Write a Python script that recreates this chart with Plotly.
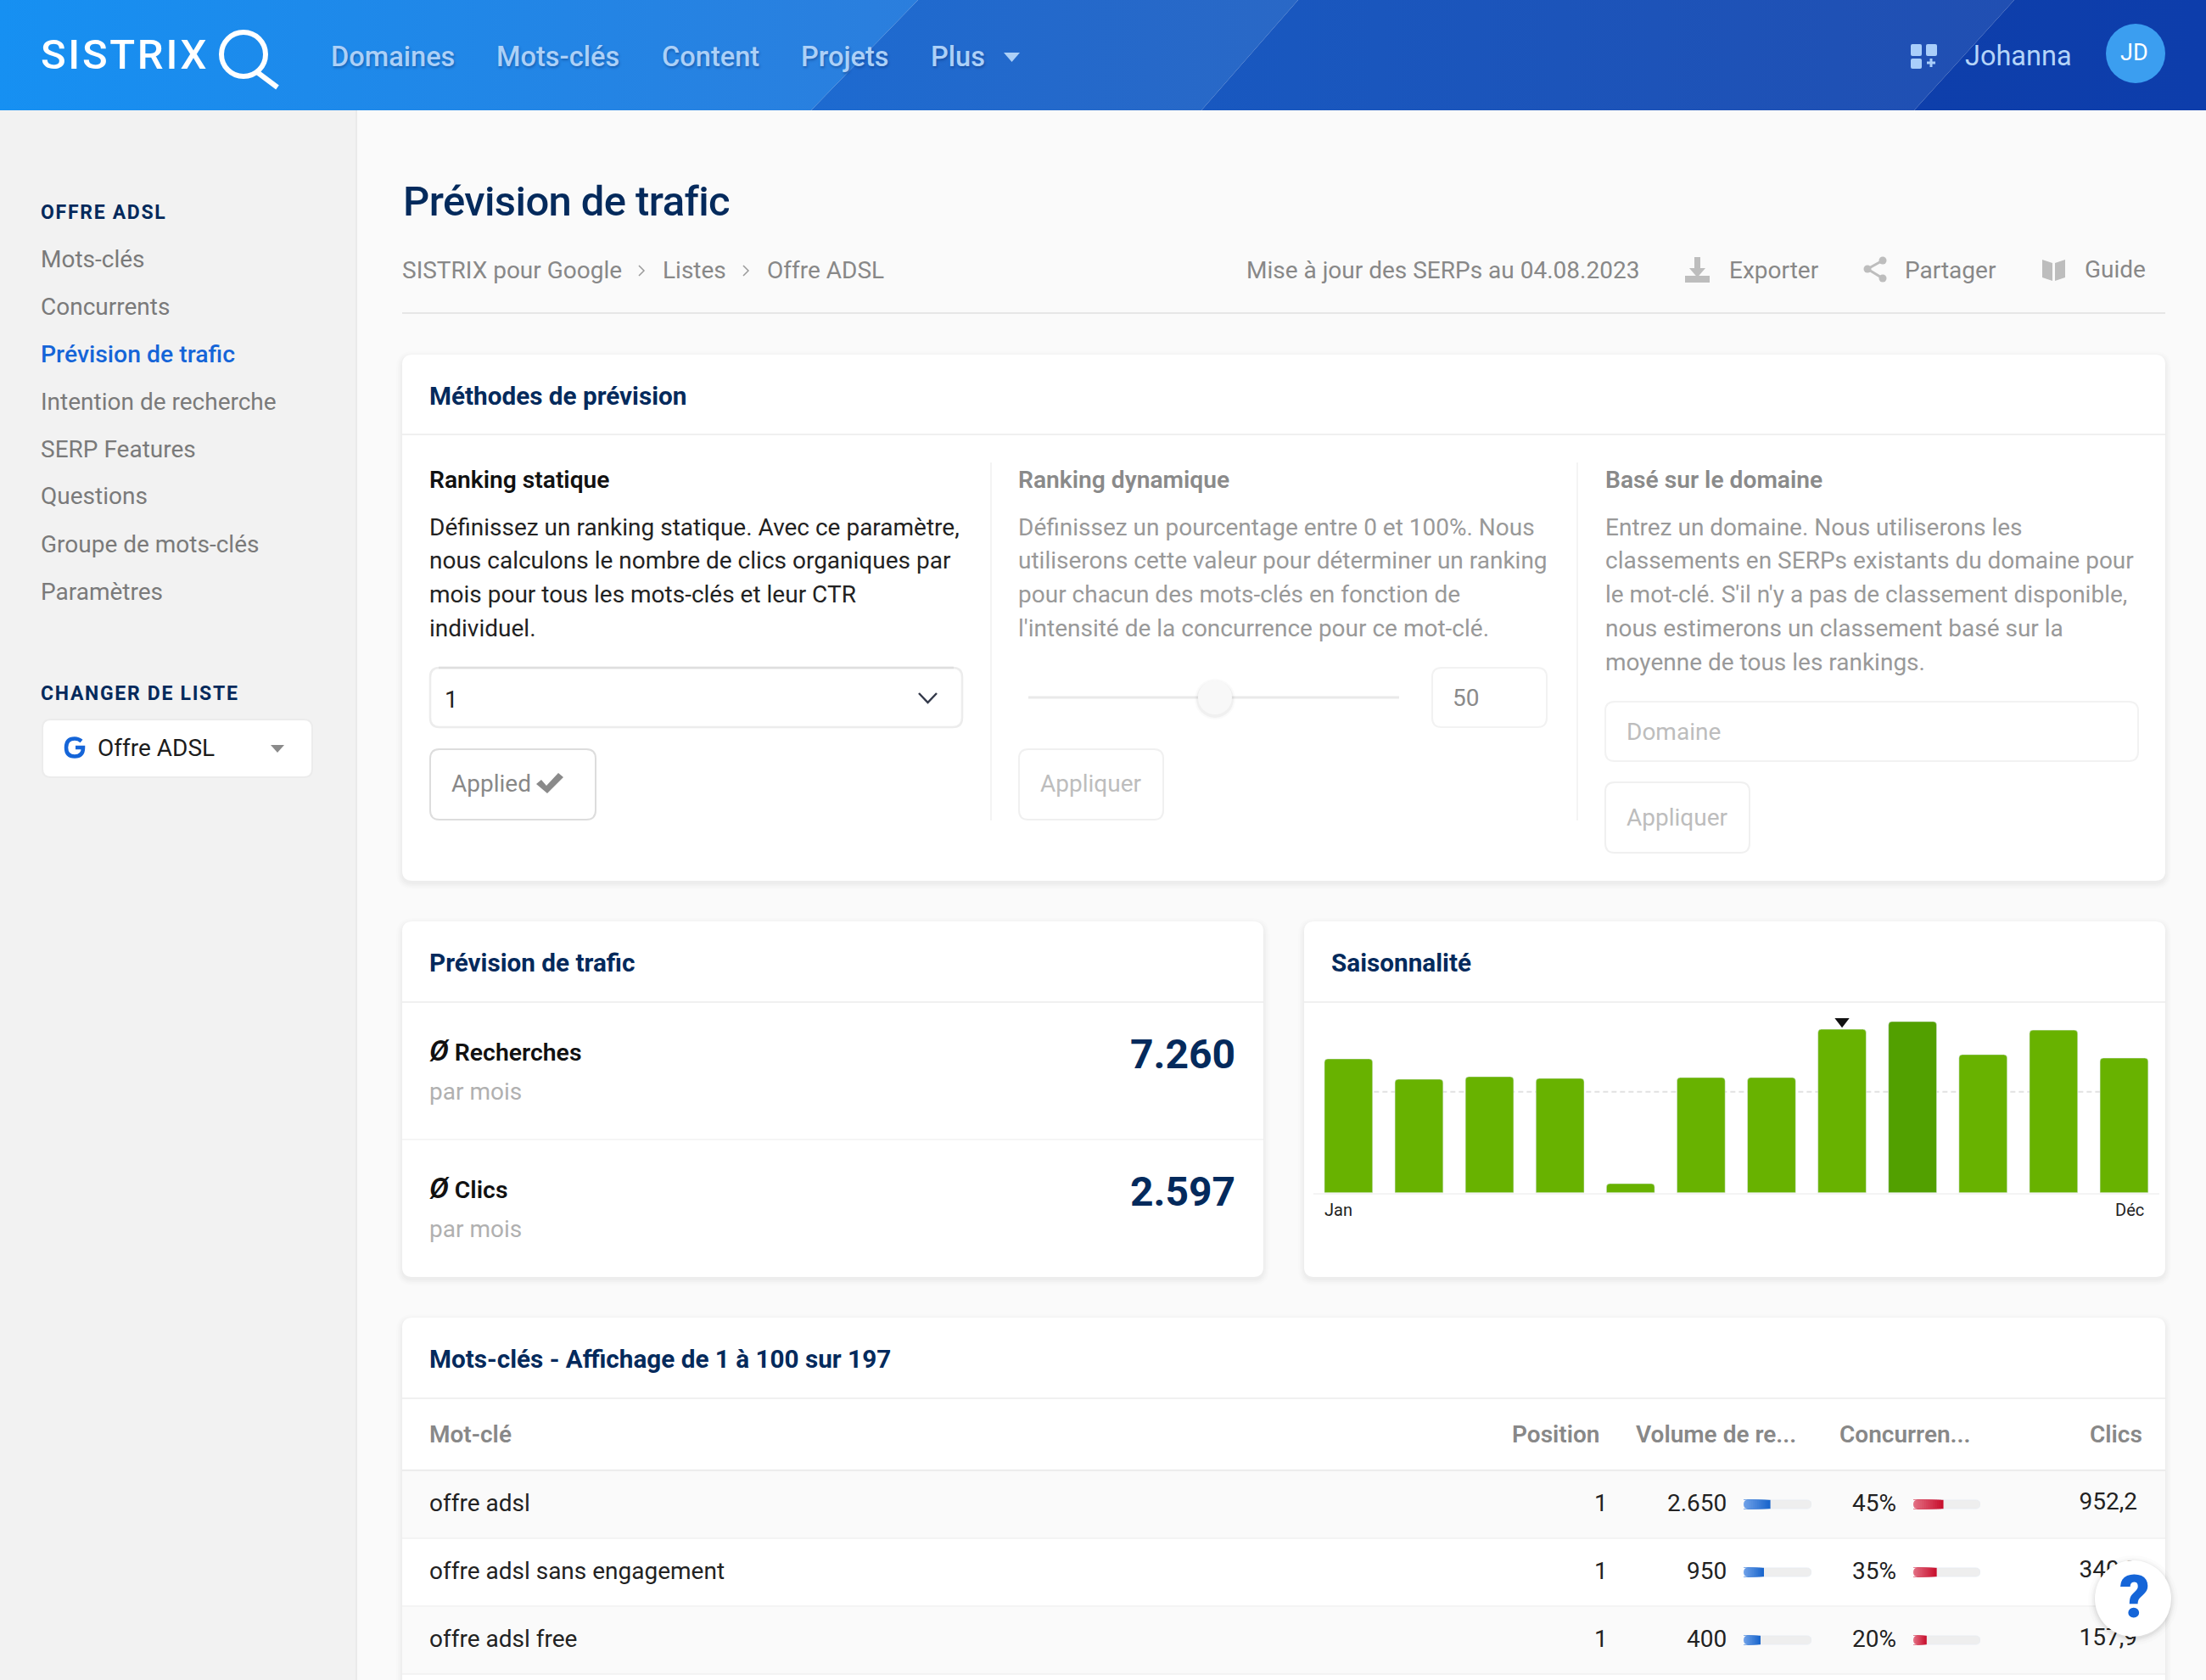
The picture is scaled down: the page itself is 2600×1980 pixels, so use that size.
import plotly.graph_objects as go

W = 2600
H = 1980

NAVY = '#042a5c'
FONT = 'Roboto'

# chart values
months = ['Jan', 'Fév', 'Mar', 'Avr', 'Mai', 'Juin', 'Juil', 'Août', 'Sep', 'Oct', 'Nov', 'Déc']
seasonality = [78.2, 66.3, 67.8, 66.8, 5.3, 67.3, 67.3, 95.5, 100, 80.7, 95.0, 78.7]
season_avg = 59
current_month = 'Août'
peak_month = 'Sep'

keywords = ['offre adsl', 'offre adsl sans engagement', 'offre adsl free']
positions = ['1', '1', '1']
volume_labels = ['2.650', '950', '400']
volume_bar = [39.5, 30, 25]
competition = [45, 35, 20]
clicks = ['952,2', '340,9', '157,9']

nav_items = ['Domaines', 'Mots-clés', 'Content', 'Projets', 'Plus']
side_items = ['Mots-clés', 'Concurrents', 'Prévision de trafic', 'Intention de recherche',
              'SERP Features', 'Questions', 'Groupe de mots-clés', 'Paramètres']
col1_lines = ['Définissez un ranking statique. Avec ce paramètre,',
              'nous calculons le nombre de clics organiques par',
              'mois pour tous les mots-clés et leur CTR',
              'individuel.']
col2_lines = ['Définissez un pourcentage entre 0 et 100%. Nous',
              'utiliserons cette valeur pour déterminer un ranking',
              'pour chacun des mots-clés en fonction de',
              "l'intensité de la concurrence pour ce mot-clé."]
col3_lines = ['Entrez un domaine. Nous utiliserons les',
              'classements en SERPs existants du domaine pour',
              "le mot-clé. S'il n'y a pas de classement disponible,",
              'nous estimerons un classement basé sur la',
              'moyenne de tous les rankings.']

shapes = []
notes = []


def text(x, y, s, size=28, color='#222222', weight=400, anchor='left', spacing=None, shadow=None):
    if spacing is not None:
        s = '<span style="letter-spacing:%spx">%s</span>' % (spacing, s)
    font = dict(family=FONT, size=size, color=color, weight=weight)
    if shadow:
        font['shadow'] = shadow
    notes.append(dict(x=x, y=y, xref='x', yref='y', text=s, showarrow=False, xanchor=anchor,
                      yanchor='middle', borderpad=0, borderwidth=0, font=font))


def rect(x0, y0, x1, y1, fill, layer='below'):
    shapes.append(dict(type='rect', xref='x', yref='y', x0=x0, y0=y0, x1=x1, y1=y1,
                       fillcolor=fill, line_width=0, layer=layer))


def rounded(x0, y0, x1, y1, r, fill='#ffffff', line=None, lw=2, layer='below'):
    p = ('M %s %s L %s %s Q %s %s %s %s L %s %s Q %s %s %s %s L %s %s Q %s %s %s %s L %s %s Q %s %s %s %s Z'
         % (x0 + r, y0, x1 - r, y0, x1, y0, x1, y0 + r, x1, y1 - r, x1, y1, x1 - r, y1,
            x0 + r, y1, x0, y1, x0, y1 - r, x0, y0 + r, x0, y0, x0 + r, y0))
    shapes.append(dict(type='path', xref='x', yref='y', path=p, fillcolor=fill, layer=layer,
                       line=dict(color=line or 'rgba(0,0,0,0)', width=lw if line else 0)))


def path(p, fill='rgba(0,0,0,0)', line=None, lw=0, layer='below'):
    shapes.append(dict(type='path', xref='x', yref='y', path=p, fillcolor=fill, layer=layer,
                       line=dict(color=line or 'rgba(0,0,0,0)', width=lw)))


def hline(x0, x1, y, color='#f0f0f0', lw=2):
    shapes.append(dict(type='line', xref='x', yref='y', x0=x0, x1=x1, y0=y, y1=y, layer='below',
                       line=dict(color=color, width=lw)))


def vline(x, y0, y1, color='#f0f0f0', lw=1.5):
    shapes.append(dict(type='line', xref='x', yref='y', x0=x, x1=x, y0=y0, y1=y1, layer='below',
                       line=dict(color=color, width=lw)))


def circle(cx, cy, r, fill, line=None, lw=0, layer='below'):
    shapes.append(dict(type='circle', xref='x', yref='y', x0=cx - r, x1=cx + r, y0=cy - r, y1=cy + r,
                       fillcolor=fill, layer=layer, line=dict(color=line or 'rgba(0,0,0,0)', width=lw)))


def card(x0, y0, x1, y1):
    # soft drop shadow, then the white panel
    for grow, alpha in [(7, 0.006), (5, 0.01), (3, 0.014), (1, 0.016)]:
        rounded(x0 - grow, y0 - grow + 3, x1 + grow, y1 + grow + 3, 12 + grow, 'rgba(0,0,0,%s)' % alpha)
    rounded(x0, y0, x1, y1, 12)


def ydomain(top, bottom):
    return [1 - bottom / H, 1 - top / H]


# page background and sidebar
rect(0, 130, 419, H, '#f2f2f2')
vline(420, 130, H, '#eaeaea', 2)
rect(421, 130, W, H, '#fafafa')

# header
text(48, 64, '<span style="letter-spacing:2.7px">SISTRIX</span>', 49, '#ffffff', 500)
circle(287, 64, 26, 'rgba(0,0,0,0)', '#ffffff', 6, layer='above')
path('M 303 85 L 327 103', line='#ffffff', lw=6, layer='above')

nav_x = [390, 585, 780, 944, 1097]
nav_shadow = '1px 2px 3px rgba(0,30,90,0.35)'
for x, s in zip(nav_x, nav_items):
    text(x, 66.5, s, 32.6, '#acd0f7', 500, shadow=nav_shadow)
path('M 1183 62 L 1202 62 L 1192.5 73 Z', '#acd0f7', layer='above')

rounded(2252, 52, 2265, 66, 2, '#a9cefa', layer='above')
rounded(2270, 52, 2283, 66, 2, '#a9cefa', layer='above')
rounded(2252, 69, 2265, 81, 2, '#a9cefa', layer='above')
path('M 2276 69 L 2276 79 M 2271 74 L 2281 74', line='#a9cefa', lw=3, layer='above')
text(2316, 65.5, 'Johanna', 32.5, '#b4d4f8')
circle(2517, 63, 35, '#3b9ef0', layer='above')
text(2515, 62, 'JD', 27, '#ffffff', anchor='center')

# sidebar
text(48, 250, 'OFFRE ADSL', 23, NAVY, 700, spacing=1.7)
side_y = [305, 361, 417.5, 473, 529, 584.5, 641, 697.5]
for y, s in zip(side_y, side_items):
    if s == 'Prévision de trafic':
        text(48, y, s, 28.4, '#1565d8', 500)
    else:
        text(48, y, s, 28, '#7a7a7a')
text(48, 817.5, 'CHANGER DE LISTE', 23, NAVY, 700, spacing=1.7)
rounded(50, 848, 368, 916, 10, '#ffffff', '#ececec', 2)
path('M 96 873.5 Q 92.5 870.5 88 870.5 Q 78 870.5 78 881 Q 78 891.5 88 891.5 Q 98 891.5 98 881 L 89 881',
     line='#1565d8', lw=4.5)
text(115, 881.5, 'Offre ADSL', 28, '#1c1c1c')
path('M 319 878 L 335 878 L 327 887 Z', '#8a8a8a')

# title row
text(475, 237, 'Prévision de trafic', 49, NAVY, 500, spacing=-0.6)
crumbs = [(474, 'SISTRIX pour Google'), (781, 'Listes'), (904, 'Offre ADSL')]
for x, s in crumbs:
    text(x, 318, s, 28, '#888888')
path('M 753 313 L 759 319 L 753 325', line='#9a9a9a', lw=1.5)
path('M 876 313 L 882 319 L 876 325', line='#9a9a9a', lw=1.5)
hline(474, 2552, 369, '#e6e6e6', 2)

text(1469, 318, 'Mise à jour des SERPs au 04.08.2023', 28, '#888888')
text(2038, 318, 'Exporter', 28, '#888888')
text(2245, 318, 'Partager', 28, '#888888')
text(2457, 317.5, 'Guide', 28, '#888888')
path('M 1997 303 L 2004 303 L 2004 316 L 2010 316 L 2000.5 327 L 1991 316 L 1997 316 Z', '#bdbdbd')
rect(1986, 325, 2015, 333, '#bdbdbd')
circle(2201, 317, 4.5, '#bdbdbd')
circle(2219, 307, 4.5, '#bdbdbd')
circle(2219, 328, 4.5, '#bdbdbd')
path('M 2201 317 L 2219 307 M 2201 317 L 2219 328', line='#bdbdbd', lw=3)
path('M 2407 306 L 2419 310 L 2419 331 L 2407 327 Z M 2434 306 L 2422 310 L 2422 331 L 2434 327 Z', '#bdbdbd')

# methods card
card(474, 418, 2552, 1038)
text(506, 466.5, 'Méthodes de prévision', 29.7, NAVY, 700)
hline(474, 2552, 512)
vline(1168, 545, 967)
vline(1859, 545, 967)

text_y = [621, 660.5, 700, 740, 780]
text(506, 565.5, 'Ranking statique', 28.2, '#111111', 600)
for y, s in zip(text_y, col1_lines):
    text(506, y, s)
text(1200, 565.5, 'Ranking dynamique', 28.2, '#8a8a8a', 600)
for y, s in zip(text_y, col2_lines):
    text(1200, y, s, color='#999999')
text(1892, 565.5, 'Basé sur le domaine', 28.2, '#8a8a8a', 600)
for y, s in zip(text_y, col3_lines):
    text(1892, y, s, color='#999999')

rounded(507, 787, 1134, 857, 11, '#ffffff', '#ececec', 2.5)
hline(517, 1124, 787, '#dedede', 2.5)
text(524, 824, '1')
path('M 1083 817 L 1093.5 828 L 1104 817', line='#33394a', lw=2.5)
rounded(507, 883, 702, 966, 11, '#ffffff', '#dddddd', 2)
text(532, 923.5, 'Applied', color='#888888')
path('M 632 924 L 638 919 L 644 926 L 658 911 L 664 916 L 645 935 Z', '#8a8a8a')

hline(1212, 1649, 822, '#e9e9e9', 3)
for grow, alpha in [(4, 0.02), (2, 0.04)]:
    circle(1432, 824, 20 + grow, 'rgba(0,0,0,%s)' % alpha)
circle(1432, 822, 20, '#f8f8f8')
rounded(1688, 787, 1823, 857, 11, '#ffffff', '#f2f2f2', 2)
text(1712, 822.5, '50', color='#8a8a8a')
rounded(1201, 883, 1371, 966, 11, '#ffffff', '#f0f0f0', 2)
text(1226, 923.5, 'Appliquer', color='#bdbdbd')

rounded(1892, 827, 2520, 897, 11, '#ffffff', '#f2f2f2', 2)
text(1917, 862.5, 'Domaine', color='#bdbdbd')
rounded(1892, 922, 2062, 1005, 11, '#ffffff', '#f0f0f0', 2)
text(1917, 963.5, 'Appliquer', color='#bdbdbd')

# forecast card
card(474, 1086, 1489, 1505)
text(506, 1134.5, 'Prévision de trafic', 29.7, NAVY, 700)
hline(474, 1489, 1181)
hline(474, 1489, 1343, '#f2f2f2', 1.5)
big_o = '<span style="font-size:34px"><i>Ø</i></span> '
text(506, 1237.5, big_o + 'Recherches', 28.4, '#111111', 600)
text(506, 1286.5, 'par mois', color='#b0b0b0')
text(1456, 1242, '7.260', 48, NAVY, 700, anchor='right')
text(506, 1399.5, big_o + 'Clics', 28.4, '#111111', 600)
text(506, 1448.5, 'par mois', color='#b0b0b0')
text(1456, 1404, '2.597', 48, NAVY, 700, anchor='right')

# seasonality card
card(1537, 1086, 2552, 1505)
text(1569, 1134.5, 'Saisonnalité', 29.7, NAVY, 700)
hline(1537, 2552, 1181)
text(1561, 1426, 'Jan', 20, '#222222')
text(2527, 1426, 'Déc', 20, '#222222', anchor='right')
shapes.append(dict(type='line', xref='x2', yref='y2', x0=months[0], x1=months[-1], y0=season_avg, y1=season_avg,
                   layer='below', line=dict(color='#e2e2e2', width=2, dash='6px,4px')))

# keywords card runs off the bottom of the page
card(474, 1553, 2552, H + 60)
text(506, 1601.5, 'Mots-clés - Affichage de 1 à 100 sur 197', 29.7, NAVY, 700)
hline(474, 2552, 1648)
text(506, 1690.5, 'Mot-clé', 28, '#888888', 600)
text(1885, 1690.5, 'Position', 28, '#888888', 600, anchor='right')
text(1928, 1690.5, 'Volume de re...', 28, '#888888', 600)
text(2168, 1690.5, 'Concurren...', 28, '#888888', 600)
text(2525, 1690.5, 'Clics', 28, '#888888', 600, anchor='right')
hline(474, 2552, 1733, '#ededed', 2.5)

row_top = [1734, 1814, 1894]
row_bg = ['#fafafa', '#ffffff', '#fafafa']
row_y = [1771.5, 1851.5, 1931.5]
for top, bg in zip(row_top, row_bg):
    rect(474, top, 2552, top + 79, bg)
    hline(474, 2552, top + 79, '#f0f0f0', 1.5)
for i, y in enumerate(row_y):
    text(506, y, keywords[i])
    text(1895, y, positions[i], anchor='right')
    text(2035, y, volume_labels[i], anchor='right')
    text(2235, y, '%d%%' % competition[i], anchor='right')

fig = go.Figure()

# header background, four diagonal bands
bands = [
    ([0, 1082, 956, 0], '#1690f2', '#2b7edd'),
    ([1082, 1530, 1416, 956], '#1d6ad0', '#2a68c6'),
    ([1530, 2374, 2256, 1416], '#1858c0', '#214fb2'),
    ([2374, W, W, 2256], '#0e3fab', '#0d3dab'),
]
for xs, c0, c1 in bands:
    fig.add_trace(go.Scatter(x=xs, y=[0, 0, 130, 130], xaxis='x', yaxis='y', mode='none', fill='toself',
                             fillgradient=dict(type='horizontal', colorscale=[[0, c0], [1, c1]]),
                             hoverinfo='skip', showlegend=False))

# clicks column sits under the help button, so it has to be a trace and not an annotation
fig.add_trace(go.Scatter(x=[2519] * len(clicks), y=row_y, text=clicks, mode='text', textposition='middle left',
                         textfont=dict(family=FONT, size=28, color='#222222'), xaxis='x', yaxis='y',
                         hoverinfo='skip', showlegend=False))

# seasonality bars
bar_colors = ['#52a000' if m == peak_month else '#68b200' for m in months]
fig.add_trace(go.Bar(x=months, y=seasonality, xaxis='x2', yaxis='y2', marker=dict(color=bar_colors, cornerradius=4),
                     hoverinfo='skip', showlegend=False))
fig.add_trace(go.Scatter(x=[current_month], y=[100.1], xaxis='x2', yaxis='y2', mode='markers',
                         marker=dict(symbol='triangle-down', size=15, color='#111111'),
                         hoverinfo='skip', showlegend=False))


# small progress bars in the table, a track and a fill with a stepped gradient
def progress(values, xaxis, yaxis, c0, c1):
    fig.add_trace(go.Bar(y=keywords, x=[100] * len(keywords), orientation='h', xaxis=xaxis, yaxis=yaxis, width=0.13,
                         marker=dict(color='#eeeeee', cornerradius=5), hoverinfo='skip', showlegend=False))
    steps = 14
    for k in range(steps):
        t = k / (steps - 1)
        col = 'rgb(%d,%d,%d)' % tuple(c1[j] + (c0[j] - c1[j]) * t for j in range(3))
        fig.add_trace(go.Bar(y=keywords, x=[v * (steps - k) / steps for v in values], orientation='h',
                             xaxis=xaxis, yaxis=yaxis, width=0.13, marker=dict(color=col, line_width=0),
                             hoverinfo='skip', showlegend=False))


progress(volume_bar, 'x3', 'y3', (110, 160, 232), (26, 102, 204))
progress(competition, 'x4', 'y4', (226, 110, 130), (200, 16, 46))

# round the left ends of the progress tracks
for cx in (2055, 2255):
    for yc, bg in zip([1773, 1853, 1933], row_bg):
        path('M %s %s L %s %s Q %s %s %s %s Z' % (cx, yc - 5.2, cx + 5, yc - 5.2, cx, yc - 5.2, cx, yc), bg, layer='above')
        path('M %s %s L %s %s Q %s %s %s %s Z' % (cx, yc + 5.2, cx + 5, yc + 5.2, cx, yc + 5.2, cx, yc), bg, layer='above')

# help button
for grow, alpha in [(8, 0.012), (5, 0.02), (3, 0.03), (1, 0.04)]:
    circle(2514, 1886, 45 + grow, 'rgba(0,0,0,%s)' % alpha, layer='above')
circle(2514, 1884, 45, '#ffffff', layer='above')
text(2516, 1882, '?', 70, '#1565d8', 900, anchor='center')

hidden = dict(visible=False, fixedrange=True)
fig.update_layout(
    width=W,
    height=H,
    margin=dict(l=0, r=0, t=0, b=0),
    paper_bgcolor='#fafafa',
    plot_bgcolor='rgba(0,0,0,0)',
    showlegend=False,
    barmode='overlay',
    bargap=0.317,
    shapes=shapes,
    annotations=notes,
    xaxis=dict(domain=[0, 1], range=[0, W], **hidden),
    yaxis=dict(domain=[0, 1], range=[H, 0], **hidden),
    xaxis2=dict(domain=[1547.8 / W, 2545 / W], range=[-0.5, 11.5], type='category', categoryorder='array',
                categoryarray=months, anchor='y2', showticklabels=False, ticks='', showgrid=False,
                showline=True, linecolor='#f4f4f4', linewidth=2, fixedrange=True),
    yaxis2=dict(domain=ydomain(1195, 1405.7), range=[0, 104.46], anchor='x2', **hidden),
    xaxis3=dict(domain=[2055 / W, 2135 / W], range=[0, 100], anchor='y3', **hidden),
    yaxis3=dict(domain=ydomain(1733, 1973), range=[2.5, -0.5], type='category', categoryarray=keywords,
                categoryorder='array', anchor='x3', **hidden),
    xaxis4=dict(domain=[2255 / W, 2334 / W], range=[0, 100], anchor='y4', **hidden),
    yaxis4=dict(domain=ydomain(1733, 1973), range=[2.5, -0.5], type='category', categoryarray=keywords,
                categoryorder='array', anchor='x4', **hidden),
)

fig.write_html("out.html", config=dict(displayModeBar=False),
               post_script="document.body.style.margin='0';document.body.style.overflow='hidden';")
